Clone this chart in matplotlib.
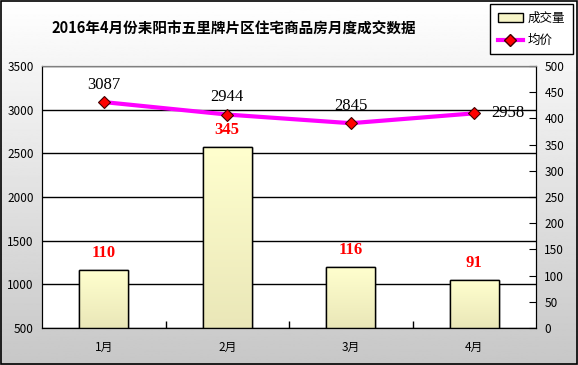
# -*- coding:utf-8 -*-
import numpy as np
import matplotlib
matplotlib.use("Agg")
import matplotlib.pyplot as plt
from matplotlib.patches import Patch, Rectangle
from matplotlib.lines import Line2D
from matplotlib.colors import LinearSegmentedColormap

# 耒阳市五里牌片区 2016年 月度成交数据
months = ["1月", "2月", "3月", "4月"]
volume = [110, 345, 116, 91]          # 成交量 (右轴)
price = [3087, 2944, 2845, 2958]      # 均价 (左轴)

plt.rcParams["font.family"] = ["Noto Sans CJK SC", "DejaVu Sans"]

fig = plt.figure(figsize=(5.78, 3.65), dpi=100)

# gray gradient background + outer frame
bg = fig.add_axes([0, 0, 1, 1], zorder=-10)
grad = np.linspace(1.0, 0.78, 256).reshape(-1, 1)
bg.imshow(grad, cmap="gray", vmin=0, vmax=1, aspect="auto", extent=(0, 1, 0, 1))
bg.add_patch(Rectangle((0.001, 0.002), 0.997, 0.995, fill=False, ec="black", lw=1.2,
                       transform=bg.transAxes))
bg.set_axis_off()

rect = [42 / 578, 1 - 328 / 365, (536 - 42) / 578, (328 - 66) / 365]
ax = fig.add_axes(rect)          # 均价轴 (left) with grid
ax.set_facecolor("white")
x = np.arange(len(months))

ax.set_xlim(-0.5, len(months) - 0.5)
ax.set_ylim(500, 3500)
ax.set_yticks(range(500, 3501, 500))
ax.yaxis.grid(True, color="black", lw=1)
ax.set_axisbelow(True)
ax.tick_params(axis="y", length=0, pad=6, labelsize=8.5)
ax.set_xticks(x)
ax.set_xticklabels(months, fontsize=8.5)
ax.tick_params(axis="x", length=0, pad=9)
ax.set_xticks(x[:-1] + 0.5, minor=True)
ax.tick_params(axis="x", which="minor", direction="in", length=5, width=1)

# 成交量 bars on right axis
ax2 = ax.twinx()
ax2.set_ylim(0, 500)
ax2.set_yticks(range(0, 501, 50))
ax2.tick_params(axis="y", direction="in", length=5, pad=6, labelsize=8.5)
bars = ax2.bar(x, volume, width=0.4, color="#F7F5C8", edgecolor="black", lw=1, zorder=2)
bar_grad = np.linspace(0, 1, 100).reshape(-1, 1)
ycmap = LinearSegmentedColormap.from_list("y", ["#EAE7B8", "#FFFFCE"])
for b, v in zip(bars, volume):
    im = ax2.imshow(bar_grad, cmap=ycmap, aspect="auto", origin="lower",
                    extent=(b.get_x(), b.get_x() + b.get_width(), 0, v), zorder=2)
    im.set_clip_path(b)
    ax2.add_patch(Rectangle((b.get_x(), 0), b.get_width(), v, fill=False,
                            ec="black", lw=1, zorder=3))
    ax2.annotate(str(v), (b.get_x() + b.get_width() / 2, v), xytext=(0, 12.5),
                 textcoords="offset points", ha="center", va="center",
                 color="red", fontsize=12, fontweight="bold", family="Liberation Serif")
ax2.set_xlim(-0.5, len(months) - 0.5)

# 均价 line on top, same scale as left axis
ax3 = ax.twinx()
ax3.set_ylim(ax.get_ylim())
ax3.set_xlim(ax.get_xlim())
ax3.axis("off")
ax3.plot(x, price, color="#FF00FF", lw=3, zorder=4)
ax3.plot(x, price, ls="none", marker="D", ms=6.5, mfc="red", mec="#400000", mew=0.8, zorder=5)
for i, p in enumerate(price):
    if i == len(price) - 1:
        ax3.annotate(str(p), (x[i], p), xytext=(12, 0), textcoords="offset points",
                     ha="left", va="center", fontsize=12, family="Liberation Serif")
    else:
        ax3.annotate(str(p), (x[i], p), xytext=(0, 12.5), textcoords="offset points",
                     ha="center", va="center", fontsize=12, family="Liberation Serif")

for a in (ax, ax2):
    a.spines["top"].set_color("#808080")
    for s in ("left", "right", "bottom"):
        a.spines[s].set_color("black")

fig.text(234 / 578, 1 - 29 / 365, "2016年4月份耒阳市五里牌片区住宅商品房月度成交数据",
         ha="center", va="center", fontsize=10.5, fontweight="bold")

handles = [Patch(facecolor="#F7F5C8", edgecolor="black"),
           Line2D([], [], color="#FF00FF", lw=3, marker="D", ms=6, mfc="red", mec="#400000")]
leg = fig.legend(handles, ["成交量", "均价"], loc="upper left",
                 bbox_to_anchor=(490 / 578, 1 - 4 / 365), fontsize=9, frameon=True,
                 fancybox=False, edgecolor="black", framealpha=1, borderaxespad=0,
                 handlelength=2.0, handletextpad=0.4, labelspacing=0.75, borderpad=0.6)
leg.get_frame().set_linewidth(1)

fig.savefig("out.png", dpi=100)
